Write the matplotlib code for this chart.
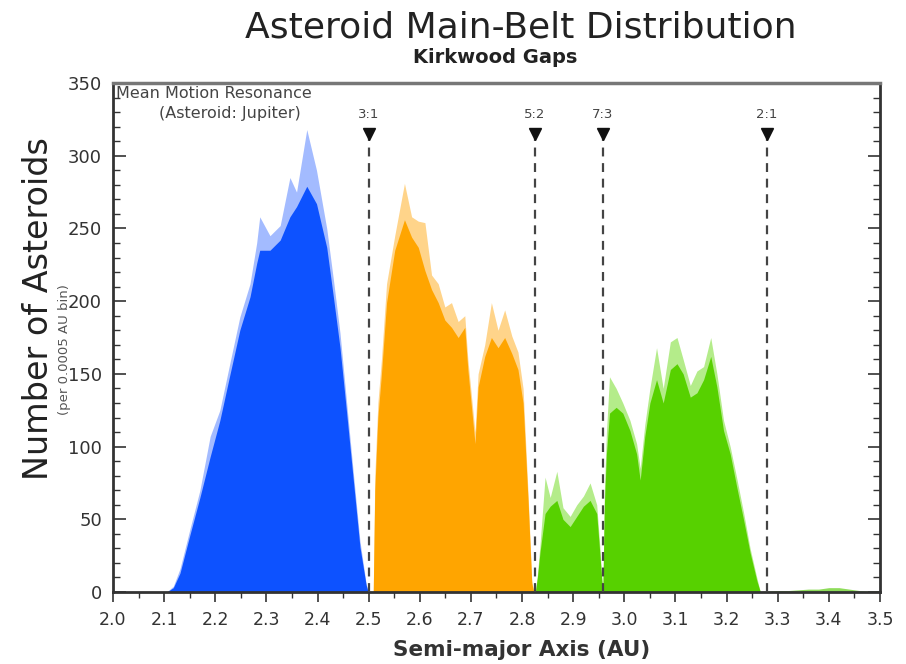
import numpy as np
import matplotlib.pyplot as plt
from matplotlib.ticker import MultipleLocator

# ------------------------------------------
# data
# (semi-major axis in AU, count per 0.0005 AU bin)
# ------------------------------------------
blue_a = [2.105, 2.118, 2.131, 2.151, 2.170, 2.190, 2.209, 2.229, 2.248, 2.268,
          2.281, 2.287, 2.307, 2.327, 2.346, 2.359, 2.379, 2.398, 2.418, 2.431,
          2.444, 2.457, 2.470, 2.483, 2.495, 2.499]
blue_n = [0, 3, 13, 40, 65, 93, 118, 150, 180, 203,
          226, 235, 235, 242, 258, 265, 279, 267, 237, 203,
          168, 123, 77, 31, 5, 0]
blue_pk = [0, 4, 16, 44, 70, 107, 125, 158, 189, 212,
           240, 258, 245, 252, 285, 275, 318, 290, 250, 215,
           178, 130, 82, 35, 6, 0]

orange_a = [2.509, 2.512, 2.518, 2.525, 2.535, 2.551, 2.570, 2.584, 2.597, 2.610,
            2.623, 2.636, 2.649, 2.662, 2.675, 2.688, 2.694, 2.708, 2.714, 2.727,
            2.740, 2.753, 2.766, 2.780, 2.792, 2.802, 2.812, 2.819, 2.823]
orange_n = [0, 70, 120, 150, 199, 235, 256, 244, 237, 221,
            208, 199, 187, 182, 175, 182, 153, 102, 141, 162,
            175, 168, 175, 164, 153, 130, 61, 6, 0]
orange_pk = [0, 80, 130, 160, 212, 245, 281, 258, 255, 254,
             218, 212, 196, 199, 186, 190, 160, 110, 150, 170,
             199, 180, 194, 176, 165, 140, 66, 8, 0]

green_a = [2.826, 2.830, 2.835, 2.845, 2.855, 2.868, 2.880, 2.894, 2.907, 2.920,
           2.933, 2.946, 2.952, 2.956, 2.958, 2.961, 2.965, 2.971, 2.984, 2.997,
           3.011, 3.024, 3.031, 3.040, 3.050, 3.063, 3.076, 3.090, 3.103, 3.115,
           3.129, 3.142, 3.155, 3.169, 3.181, 3.194, 3.207, 3.220, 3.233, 3.246,
           3.259, 3.266]
green_n = [0, 10, 27, 54, 59, 63, 50, 45, 52, 59,
           63, 54, 27, 8, 0, 60, 95, 123, 127, 123,
           111, 95, 77, 107, 130, 146, 130, 153, 157, 150,
           134, 137, 146, 162, 141, 111, 95, 72, 50, 27,
           8, 0]
green_pk = [0, 12, 32, 79, 65, 83, 58, 52, 60, 66,
            75, 60, 32, 10, 0, 70, 110, 148, 140, 130,
            118, 102, 85, 115, 140, 168, 140, 172, 175, 160,
            142, 152, 155, 175, 150, 118, 100, 78, 55, 30,
            10, 0]

tail_a = [3.27, 3.30, 3.32, 3.34, 3.36, 3.38, 3.40, 3.42, 3.44, 3.46, 3.48, 3.50]
tail_n = [0.5, 1, 1, 1.5, 2, 2, 3, 3, 2, 1, 0.5, 0.5]

# resonances (asteroid : jupiter)
res_labels = ["3:1", "5:2", "7:3", "2:1"]
res_a = [2.501, 2.825, 2.958, 3.279]

# ------------------------------------------
# figure
# ------------------------------------------
fig = plt.figure(figsize=(9.06, 6.64), dpi=100)
ax = fig.add_axes([0.1247, 0.1084, 0.8466, 0.7666])

segments = [
    (blue_a, blue_n, blue_pk, "#0D52FF", "#A3BBFF"),
    (orange_a, orange_n, orange_pk, "#FFA500", "#FFD48A"),
    (green_a, green_n, green_pk, "#57D100", "#B4EC8A"),
]
for a, n, pk, col, light in segments:
    ax.fill_between(a, 0, pk, color=light, lw=0, zorder=1)
    ax.fill_between(a, 0, n, color=col, lw=0, zorder=2)
ax.fill_between(tail_a, 0, tail_n, color="#8EDC5A", lw=0, zorder=2)

# resonance markers
for lab, a in zip(res_labels, res_a):
    ax.plot([a, a], [0, 312], color="#444444", lw=1.6, ls=(0, (4, 3)), zorder=3)
    ax.plot(a, 315, marker="v", color="#111111", ms=8, zorder=4)
    ax.text(a, 324, lab, ha="center", va="bottom", fontsize=9.5, color="#444444")

ax.text(2.006, 348, "Mean Motion Resonance", ha="left", va="top",
        fontsize=11.5, color="#444444")
ax.text(2.228, 334, "(Asteroid: Jupiter)", ha="center", va="top",
        fontsize=11.5, color="#444444")

ax.set_xlim(2.0, 3.5)
ax.set_ylim(0, 350)
ax.xaxis.set_major_locator(MultipleLocator(0.1))
ax.xaxis.set_minor_locator(MultipleLocator(0.05))
ax.yaxis.set_major_locator(MultipleLocator(50))
ax.yaxis.set_minor_locator(MultipleLocator(10))
ax.xaxis.set_major_formatter(plt.FuncFormatter(lambda v, p: f"{v:.1f}"))

ax.tick_params(axis="x", which="both", direction="out", bottom=True, top=False,
               colors="#333333", labelsize=12.5, pad=7)
ax.tick_params(axis="x", which="major", length=7, width=1.2)
ax.tick_params(axis="x", which="minor", length=4, width=1.0)
ax.tick_params(axis="y", which="both", direction="in", left=True, right=True,
               colors="#333333", labelsize=13, pad=8)
ax.tick_params(axis="y", which="major", length=9, width=1.2)
ax.tick_params(axis="y", which="minor", length=5, width=1.0)

for side in ["left", "bottom", "right"]:
    ax.spines[side].set_color("#333333")
    ax.spines[side].set_linewidth(2)
ax.spines["top"].set_color("#777777")
ax.spines["top"].set_linewidth(2.5)

ax.set_xlabel("Semi-major Axis (AU)", fontsize=15.5, fontweight="bold",
              color="#333333", labelpad=6)
ax.xaxis.set_label_coords(0.533, -0.095)
fig.text(0.042, 0.535, "Number of Asteroids", rotation=90, ha="center", va="center",
         fontsize=24, color="#222222")
fig.text(0.071, 0.474, "(per 0.0005 AU bin)", rotation=90, ha="center", va="center",
         fontsize=9.5, color="#555555")

fig.text(0.575, 0.958, "Asteroid Main-Belt Distribution", ha="center", va="center",
         fontsize=26, color="#222222")
fig.text(0.547, 0.914, "Kirkwood Gaps", ha="center", va="center",
         fontsize=14, fontweight="bold", color="#222222")

fig.savefig("out.png", dpi=100)
